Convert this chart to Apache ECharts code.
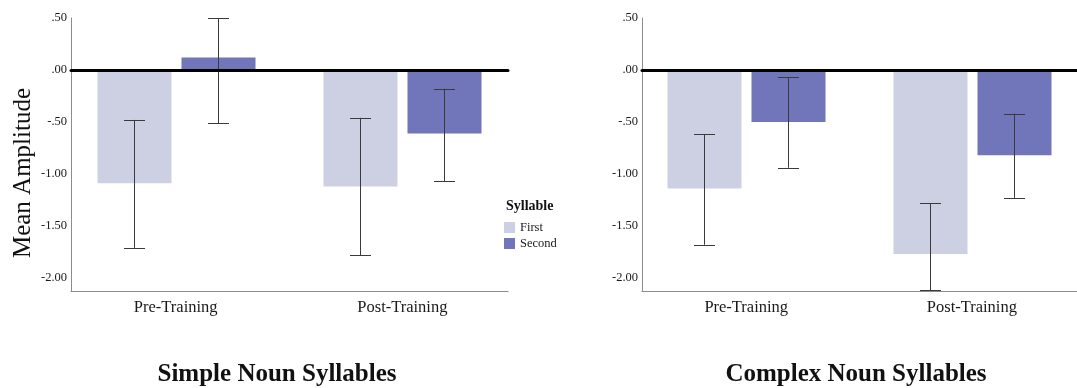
<!DOCTYPE html>
<html>
<head>
<meta charset="utf-8">
<script src="https://cdn.jsdelivr.net/npm/echarts@6/dist/echarts.min.js"></script>
<style>
  html, body { margin: 0; padding: 0; background: #ffffff; }
  #chart { width: 1077px; height: 388px; }
</style>
</head>
<body>
<div id="chart"></div>
<script>
// ---------------- data ----------------
const categories = ['Pre-Training', 'Post-Training'];
const syllables = ['First', 'Second'];
const panelTitles = ['Simple Noun Syllables', 'Complex Noun Syllables'];
const yTickValues = [0.5, 0, -0.5, -1, -1.5, -2];

// Simple noun syllables: means and error bar limits [low, high]
const simpleFirstMean = [-1.09, -1.12];
const simpleFirstLow = [-1.71, -1.78];
const simpleFirstHigh = [-0.48, -0.46];
const simpleSecondMean = [0.12, -0.61];
const simpleSecondLow = [-0.51, -1.07];
const simpleSecondHigh = [0.50, -0.18];

// Complex noun syllables
const complexFirstMean = [-1.14, -1.77];
const complexFirstLow = [-1.68, -2.12];
const complexFirstHigh = [-0.62, -1.28];
const complexSecondMean = [-0.50, -0.82];
const complexSecondLow = [-0.94, -1.23];
const complexSecondHigh = [-0.07, -0.42];

// ---------------- style ----------------
const FONT = '"Liberation Serif", "Times New Roman", serif';
const COLOR_FIRST = '#cdd0e3';
const COLOR_SECOND = '#7175b9';
const ERR_COLOR = '#3a3a3a';
const AXIS_COLOR = '#8c8c8c';
const BAR_W = 74;
const BAR_OFFSET = 42;
const CAP_W = 21;

function rows(mean, low, high) {
  return mean.map((m, i) => [i, m, low[i], high[i]]);
}

function makeRender(offset) {
  return function (params, api) {
    const x = api.value(0);
    const m = api.value(1);
    const lo = api.value(2);
    const hi = api.value(3);
    const base = api.coord([x, 0]);
    const top = api.coord([x, m]);
    const pLo = api.coord([x, lo]);
    const pHi = api.coord([x, hi]);
    const cx = Math.round(base[0] + offset) + 0.5;
    const y0 = Math.min(base[1], top[1]);
    const y1 = Math.max(base[1], top[1]);
    const errStyle = { stroke: ERR_COLOR, lineWidth: 1 };
    return {
      type: 'group',
      children: [
        { type: 'rect', shape: { x: cx - BAR_W / 2, y: y0, width: BAR_W, height: y1 - y0 },
          style: { fill: api.visual('color') } },
        { type: 'line', shape: { x1: cx, y1: pHi[1], x2: cx, y2: pLo[1] }, style: errStyle },
        { type: 'line', shape: { x1: cx - CAP_W / 2, y1: Math.round(pHi[1]) + 0.5, x2: cx + CAP_W / 2, y2: Math.round(pHi[1]) + 0.5 }, style: errStyle },
        { type: 'line', shape: { x1: cx - CAP_W / 2, y1: Math.round(pLo[1]) + 0.5, x2: cx + CAP_W / 2, y2: Math.round(pLo[1]) + 0.5 }, style: errStyle }
      ]
    };
  };
}

const grids = [
  { left: 71, top: 18, width: 437, height: 273 },
  { left: 642, top: 18, width: 435, height: 273 }
];

const xAxes = [];
const yAxes = [];
[0, 1].forEach(g => {
  // labelled bottom axis
  xAxes.push({
    type: 'value', gridIndex: g, min: -0.462, max: 1.466,
    axisLine: { show: true, onZero: false, lineStyle: { color: AXIS_COLOR, width: 1 } },
    axisTick: { show: false },
    splitLine: { show: false },
    axisLabel: {
      customValues: [0, 1],
      formatter: v => categories[Math.round(v)],
      fontFamily: FONT, fontSize: 16.5, color: '#1a1a1a', margin: 8
    }
  });
  // zero reference line
  xAxes.push({
    type: 'value', gridIndex: g, min: -0.462, max: 1.466, z: 5,
    axisLine: { show: true, onZero: true, lineStyle: { color: '#000000', width: 3 } },
    axisTick: { show: false }, axisLabel: { show: false }, splitLine: { show: false }
  });
  yAxes.push({
    type: 'value', gridIndex: g, min: -2.125, max: 0.5,
    axisLine: { show: true, onZero: false, lineStyle: { color: AXIS_COLOR, width: 1 } },
    axisTick: { show: false },
    splitLine: { show: false },
    axisLabel: {
      customValues: yTickValues,
      formatter: v => v.toFixed(2).replace(/^(-?)0\./, '$1.'),
      fontFamily: FONT, fontSize: 12.5, color: '#1a1a1a', margin: 4
    }
  });
});

const panels = [
  [rows(simpleFirstMean, simpleFirstLow, simpleFirstHigh), rows(simpleSecondMean, simpleSecondLow, simpleSecondHigh)],
  [rows(complexFirstMean, complexFirstLow, complexFirstHigh), rows(complexSecondMean, complexSecondLow, complexSecondHigh)]
];

const series = [];
panels.forEach((pair, g) => {
  pair.forEach((data, s) => {
    series.push({
      name: syllables[s],
      type: 'custom',
      xAxisIndex: g * 2,
      yAxisIndex: g,
      itemStyle: { color: s === 0 ? COLOR_FIRST : COLOR_SECOND },
      renderItem: makeRender(s === 0 ? -BAR_OFFSET : BAR_OFFSET),
      encode: { x: 0, y: 1 },
      data: data,
      silent: true
    });
  });
});

const option = {
  animation: false,
  backgroundColor: '#ffffff',
  grid: grids,
  xAxis: xAxes,
  yAxis: yAxes,
  legend: {
    data: syllables,
    orient: 'vertical',
    left: 504, top: 221,
    padding: 0,
    itemWidth: 11, itemHeight: 11, itemGap: 3,
    icon: 'rect',
    textStyle: { fontFamily: FONT, fontSize: 12.5, color: '#1a1a1a' }
  },
  graphic: [
    { type: 'text', x: 506, y: 206, style: { text: 'Syllable', fontFamily: FONT, fontWeight: 'bold', fontSize: 14, fill: '#111', align: 'left', verticalAlign: 'middle' } },
    { type: 'text', x: 23, y: 173, rotation: Math.PI / 2, style: { text: 'Mean Amplitude', fontFamily: FONT, fontSize: 25, fill: '#111', align: 'center', verticalAlign: 'middle' } },
    { type: 'text', x: 277, y: 375, style: { text: panelTitles[0], fontFamily: FONT, fontWeight: 'bold', fontSize: 25, fill: '#111', align: 'center', verticalAlign: 'middle' } },
    { type: 'text', x: 856, y: 375, style: { text: panelTitles[1], fontFamily: FONT, fontWeight: 'bold', fontSize: 25, fill: '#111', align: 'center', verticalAlign: 'middle' } }
  ],
  series: series
};

const chart = echarts.init(document.getElementById('chart'), null, { renderer: 'canvas' });
chart.setOption(option);
</script>
</body>
</html>
